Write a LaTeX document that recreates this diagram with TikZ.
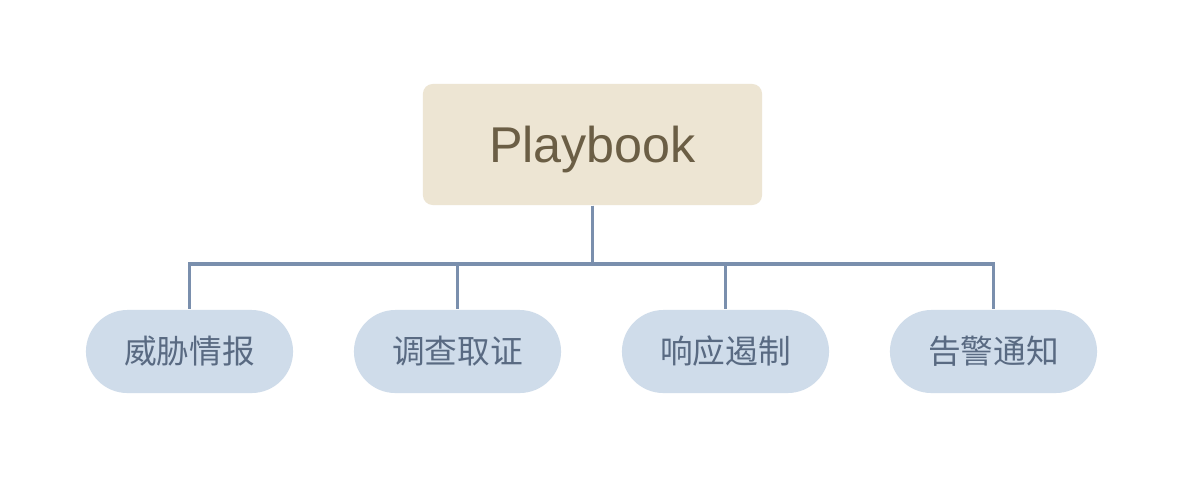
\documentclass[tikz,border=0pt]{standalone}
\usepackage{fontspec}
\usetikzlibrary{shapes.misc}
\setmainfont{Liberation Sans}
\newfontfamily\cjk{Noto Sans CJK SC}
\definecolor{rootfill}{HTML}{EDE5D3}
\definecolor{roottext}{HTML}{6B5E45}
\definecolor{pillfill}{HTML}{CFDCEA}
\definecolor{pilltext}{HTML}{596A82}
\definecolor{linecol}{HTML}{7A8FAD}
\begin{document}
\begin{tikzpicture}[x=0.01cm,y=-0.01cm,
  rootbox/.style={fill=rootfill, rounded corners=2.8pt, minimum width=3.39cm, minimum height=1.21cm, inner sep=0pt, text depth=0pt, text=roottext, font=\fontsize{14.3}{16}\selectfont},
  pill/.style={fill=pillfill, rounded rectangle, minimum width=2.07cm, minimum height=0.83cm, inner sep=0pt, text=pilltext, font=\cjk\fontsize{9.3}{11}\selectfont},
  conn/.style={draw=linecol, line width=0.9pt}]
\useasboundingbox (0,0) rectangle (1196,496);
\fill[white] (0,0) rectangle (1196,496);
\node[rootbox] (root) at (592.5,144.5) {Playbook};
\node[pill] (c1) at (189.5,351.5) {威胁情报};
\node[pill] (c2) at (457.5,351.5) {调查取证};
\node[pill] (c3) at (725.5,351.5) {响应遏制};
\node[pill] (c4) at (993.5,351.5) {告警通知};
\coordinate (bus) at (593,264);
\foreach \c in {c1,c2,c3,c4}{
  \draw[conn] (root.south) -- (root.south |- bus) -| (\c.north);
}
\end{tikzpicture}
\end{document}
